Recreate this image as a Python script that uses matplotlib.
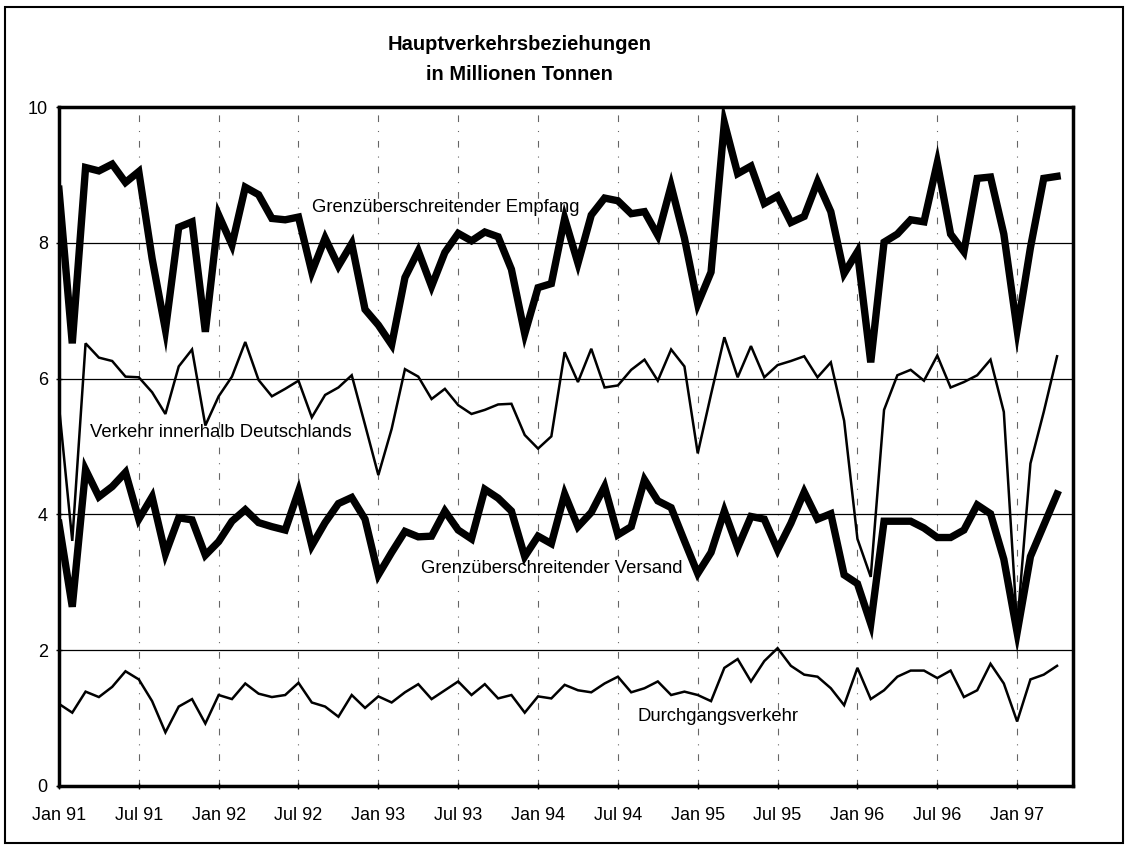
import matplotlib
matplotlib.use("Agg")
import matplotlib.pyplot as plt
from matplotlib.patches import Rectangle

plt.rcParams['font.family'] = ['Liberation Sans', 'DejaVu Sans']

# monthly values, Jan 91 .. Apr 97 (million tonnes)
empfang = [8.79, 6.52, 9.11, 9.06, 9.16, 8.89, 9.05, 7.77, 6.72, 8.23, 8.31, 6.69,
           8.41, 7.97, 8.82, 8.71, 8.36, 8.34, 8.38, 7.57, 8.07, 7.66, 7.99, 7.02,
           6.79, 6.50, 7.49, 7.88, 7.36, 7.86, 8.14, 8.03, 8.16, 8.09, 7.61, 6.66,
           7.34, 7.40, 8.36, 7.70, 8.41, 8.66, 8.62, 8.43, 8.46, 8.11, 8.84, 8.07,
           7.10, 7.57, 9.77, 9.02, 9.13, 8.58, 8.69, 8.30, 8.39, 8.90, 8.46, 7.55,
           7.87, 6.24, 8.01, 8.13, 8.34, 8.31, 9.18, 8.13, 7.87, 8.95, 8.97, 8.13,
           6.72, 7.93, 8.95, 8.98]
inland = [5.60, 3.61, 6.52, 6.31, 6.26, 6.03, 6.02, 5.80, 5.48, 6.18, 6.43, 5.31,
          5.74, 6.03, 6.54, 5.98, 5.74, 5.85, 5.97, 5.43, 5.76, 5.87, 6.05, 5.32,
          4.58, 5.26, 6.14, 6.03, 5.70, 5.85, 5.61, 5.48, 5.54, 5.62, 5.63, 5.17,
          4.97, 5.15, 6.39, 5.95, 6.44, 5.87, 5.90, 6.13, 6.28, 5.97, 6.43, 6.18,
          4.90, 5.77, 6.61, 6.02, 6.48, 6.02, 6.20, 6.26, 6.33, 6.02, 6.24, 5.38,
          3.64, 3.08, 5.54, 6.05, 6.13, 5.97, 6.34, 5.87, 5.95, 6.05, 6.28, 5.51,
          2.35, 4.75, 5.51, 6.33]
versand = [3.87, 2.64, 4.66, 4.26, 4.41, 4.62, 3.93, 4.26, 3.42, 3.95, 3.92, 3.40,
           3.60, 3.90, 4.07, 3.88, 3.82, 3.77, 4.34, 3.54, 3.88, 4.16, 4.25, 3.93,
           3.11, 3.44, 3.75, 3.67, 3.68, 4.05, 3.77, 3.64, 4.37, 4.24, 4.05, 3.38,
           3.68, 3.57, 4.30, 3.82, 4.03, 4.41, 3.70, 3.82, 4.51, 4.20, 4.10, 3.61,
           3.13, 3.44, 4.05, 3.51, 3.97, 3.93, 3.48, 3.87, 4.33, 3.93, 4.01, 3.11,
           2.98, 2.39, 3.90, 3.90, 3.90, 3.80, 3.66, 3.66, 3.77, 4.14, 4.01, 3.34,
           2.26, 3.38, 3.84, 4.30]
durchgang = [1.21, 1.08, 1.39, 1.31, 1.46, 1.69, 1.57, 1.25, 0.79, 1.17, 1.28, 0.92,
             1.34, 1.28, 1.51, 1.36, 1.31, 1.34, 1.52, 1.23, 1.17, 1.02, 1.34, 1.15,
             1.32, 1.23, 1.38, 1.50, 1.28, 1.41, 1.54, 1.34, 1.50, 1.29, 1.34, 1.08,
             1.32, 1.29, 1.49, 1.41, 1.38, 1.51, 1.61, 1.38, 1.44, 1.54, 1.34, 1.39,
             1.34, 1.25, 1.74, 1.87, 1.54, 1.84, 2.03, 1.77, 1.64, 1.61, 1.44, 1.19,
             1.74, 1.28, 1.41, 1.61, 1.70, 1.70, 1.59, 1.70, 1.31, 1.41, 1.80, 1.51,
             0.95, 1.57, 1.64, 1.77]

tick_labels = ["Jan 91", "Jul 91", "Jan 92", "Jul 92", "Jan 93", "Jul 93", "Jan 94",
               "Jul 94", "Jan 95", "Jul 95", "Jan 96", "Jul 96", "Jan 97"]

months = list(range(len(empfang)))

fig = plt.figure(figsize=(11.25, 8.5), dpi=100)
ax = fig.add_axes([0.0524, 0.0753, 0.9014, 0.7987])

ax.plot(months, empfang, color='black', lw=5.3, solid_joinstyle='miter', zorder=3)
ax.plot(months, inland, color='black', lw=1.8, solid_joinstyle='miter', zorder=3)
ax.plot(months, versand, color='black', lw=5.3, solid_joinstyle='miter', zorder=3)
ax.plot(months, durchgang, color='black', lw=1.8, solid_joinstyle='miter', zorder=3)

ax.set_xlim(0, 76.2)
ax.set_ylim(0, 10)
ax.set_yticks([0, 2, 4, 6, 8, 10])
ax.set_xticks(range(0, 6 * len(tick_labels), 6))
ax.set_xticklabels(tick_labels)
ax.tick_params(labelsize=13, length=4, width=1, direction='inout', pad=13)
ax.tick_params(axis='y', pad=6)

for y in [2, 4, 6, 8]:
    ax.axhline(y, color='black', lw=0.9, zorder=1)
for x in range(6, 6 * len(tick_labels), 6):
    ax.axvline(x, color='black', lw=0.8, ls=(0, (6, 8, 1, 8)), alpha=0.6, zorder=1)

for s in ax.spines.values():
    s.set_linewidth(2.5)

ax.text(29.1, 8.52, "Grenzüberschreitender Empfang", ha='center', va='center', fontsize=13.3)
ax.text(12.2, 5.2, "Verkehr innerhalb Deutschlands", ha='center', va='center', fontsize=13.3)
ax.text(37.0, 3.2, "Grenzüberschreitender Versand", ha='center', va='center', fontsize=13.3)
ax.text(49.5, 1.02, "Durchgangsverkehr", ha='center', va='center', fontsize=13.3)

fig.text(0.462, 0.93, "Hauptverkehrsbeziehungen\nin Millionen Tonnen", ha='center', va='center',
         fontsize=14.5, fontweight='bold', linespacing=1.75)

fig.patches.append(Rectangle((0.004, 0.008), 0.994, 0.984, transform=fig.transFigure,
                             fill=False, edgecolor='black', lw=1.5))

fig.savefig("out.png", dpi=100)
